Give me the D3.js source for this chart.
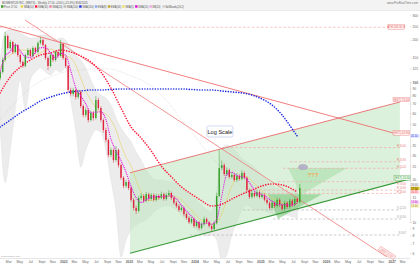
<!DOCTYPE html>
<html><head><meta charset="utf-8">
<script src="https://cdn.jsdelivr.net/npm/d3@7"></script>
<style>
body{margin:0;background:#fff;}
svg{display:block;font-family:"Liberation Sans",Arial,sans-serif;}
</style></head>
<body><svg id="c" width="420" height="265"></svg>
<script>
// ---------------- DATA ----------------
const candleStart = "2021-01-15";      // bi-weekly candles
const candleStepDays = 14;
const open  = [106.8,117.9,143.6,213.1,175.0,193.1,163.8,183.8,155.9,139.0,130.1,155.9,169.3,153.4,175.0,163.8,189.9,199.5,183.8,148.4,130.1,155.9,143.6,163.8,153.4,186.8,148.4,130.1,87.7,82.1,87.7,78.1,84.9,67.4,58.1,63.1,53.5,60.1,55.3,74.4,65.2,53.5,45.4,38.5,30.1,32.7,27.7,32.7,25.5,20.7,18.1,19.3,17.5,14.4,12.6,12.0,14.85,15.35,14.2,15.8,14.6,15.6,14.4,15.35,14.85,15.8,14.6,15.6,16.1,14.85,13.7,13.0,12.2,12.6,11.4,10.7,9.97,10.5,9.36,9.97,9.06,9.64,10.5,9.97,9.36,8.91,9.8,15.35,24.3,25.5,22.0,23.5,21.0,21.7,19.95,21.3,20.3,22.4,20.7,16.9,15.1,16.1,15.35,16.35,15.1,15.6,14.4,13.7,12.6,13.7,13.0,14.4,13.2,12.4,13.7,12.8,14.2,13.2,14.6,13.9];
const close = [117.9,143.6,213.1,175.0,193.1,163.8,183.8,155.9,139.0,130.1,155.9,169.3,153.4,175.0,163.8,189.9,199.5,183.8,148.4,130.1,155.9,143.6,163.8,153.4,186.8,148.4,130.1,87.7,82.1,87.7,78.1,84.9,67.4,58.1,63.1,53.5,60.1,55.3,74.4,65.2,53.5,45.4,38.5,30.1,32.7,27.7,32.7,25.5,20.7,18.1,19.3,17.5,14.4,12.6,12.0,14.85,15.35,14.2,15.8,14.6,15.6,14.4,15.35,14.85,15.8,14.6,15.6,16.1,14.85,13.7,13.0,12.2,12.6,11.4,10.7,9.97,10.5,9.36,9.97,9.06,9.64,10.5,9.97,9.36,8.91,9.8,15.35,24.3,25.5,22.0,23.5,21.0,21.7,19.95,21.3,20.3,22.4,20.7,16.9,15.1,16.1,15.35,16.35,15.1,15.6,14.4,13.7,12.6,13.7,13.0,14.4,13.2,12.4,13.7,12.8,14.2,13.2,14.6,13.9,17.5];
const high  = [122,150,227.5,218,200,197,190,187,160,142,160,175,173,180,179,195,209.6,204,187,152,160,159,168,167,199.5,190,152,133,91,91,90,88,87,69,66,65,62.5,62,79.4,77,67,55,47,39.5,34,33.5,34.9,33.5,26.2,21.3,20,19.9,17.9,14.8,13.1,15.4,16.1,15.8,16.4,16.2,16.1,16.0,15.9,15.8,16.5,16.2,16.2,16.9,16.5,15.2,14.1,13.4,13.1,12.9,11.7,11.0,10.9,10.8,10.3,10.2,9.95,10.9,10.8,10.2,9.6,10.1,16.2,32.7,27.5,26.3,24.6,24.2,22.8,22.3,22.3,22.0,23.4,23.0,21.2,17.4,16.8,16.6,17.0,16.8,16.2,16.0,14.8,14.1,14.2,14.1,14.9,14.8,13.6,14.2,14.1,14.7,14.6,15.1,15.0,18.7];
const low   = [103,115,140,170,170,158,160,151,134,125.9,127,152,149,150,159,160,185,179,144,121.8,127,139,140,149,150,144,126,84,79,79,75,76,65,56,56,51.5,52,53,54,63,51.5,43.5,37,29,29,26.5,27,24.5,20,17.4,17.5,16.9,13.9,12.1,11.4,11.7,14.4,13.7,13.8,14.1,14.2,14.0,14.0,14.4,14.5,14.2,14.2,15.2,14.4,13.3,12.6,11.8,11.9,11.0,10.4,9.7,9.7,9.1,9.1,8.8,8.85,9.4,9.7,9.1,8.63,8.75,9.6,15.0,23.4,21.3,21.4,20.4,20.4,19.4,19.4,19.7,19.8,20.1,16.4,14.6,14.7,14.9,15.0,14.7,14.7,14.0,13.3,12.2,12.3,12.6,12.7,12.8,12.0,12.1,12.4,12.5,12.8,12.9,13.5,13.6];

// indicators every 4 weeks from candleStart
const indStepDays = 28;
const smaFast = [118,153.4,164.9,185.0,166.0,151.8,148.9,163.3,175.5,176.1,161.7,148.0,160.1,155.4,121.0,91.5,79.7,69.7,60.3,60.9,61.3,53.9,39.1,32.2,27.4,22.7,17.9,14.9,13.8,14.4,15.1,15.15,15.2,15.25,15.4,14.6,13.2,11.96,11.0,10.07,9.65,9.84,9.64,10.45,15.3,21.8,22.7,21.5,21.1,20.2,18.0,15.9,15.7,15.0,14.0,13.4,13.3,13.25,13.2,13.8];
const smaMid  = [125,145,155.9,163.8,169.3,169.3,163.8,155.9,161.2,169.3,172.1,166.5,155.9,153.4,148.4,132.3,106.8,86.3,74.4,65.2,61.1,59.1,53.5,45.4,35.5,29.1,25.1,19.95,16.35,14.4,14.2,14.6,15.1,15.35,15.35,15.1,14.4,13.2,12.2,11.0,10.3,9.84,9.64,9.97,11.4,14.4,18.1,20.7,21.3,21.0,19.6,18.1,16.6,15.6,14.85,14.2,13.7,13.2,13.2,13.4];
const bbUpper = [143.6,230,235.1,235.1,223.8,213.1,206.0,206.0,216.6,216.6,209.6,199.5,206.0,199.5,175.0,155.9,143.6,125.9,103.3,87.7,80.7,76.8,68.5,55.3,46.9,41.8,37.3,31.6,27.7,23.5,21.0,19.95,19.95,19.6,19.3,19.0,17.8,16.35,15.6,14.4,13.2,12.2,11.8,16.9,32.7,35.5,33.8,31.6,28.6,26.8,25.5,23.5,21.7,19.95,18.4,17.5,16.9,16.35,16.35,18.4];
const bbLower = [47.7,19.0,32.7,63.1,103.3,63.1,103.3,117.9,125.9,117.9,112.2,121.8,117.9,125.9,74.4,45.4,24.7,32.7,39.8,45.4,43.9,32.7,19.95,12.2,5.62,7.44,8.77,9.52,9.97,10.3,11.2,12.2,12.8,13.0,12.8,12.2,11.2,10.3,9.52,8.77,8.21,7.94,8.07,7.44,5.35,5.81,8.07,9.97,12.2,13.2,12.6,12.2,12.2,11.8,11.4,11.2,11.2,11.2,10.9,10.7];

// slow averages every 8 weeks (last point 4 weeks later)
const sma50  = [83.5,108.6,128.0,143.6,155.9,161.2,169.3,163.8,153.4,139.0,117.9,90.6,65.2,47.7,39.8,32.2,25.1,21.0,17.8,15.8,14.2,13.0,13.4,14.6,15.8,16.9,18.1,18.7,18.4,17.2,16.35];
const sma200 = [47.7,53.5,60.1,66.2,73.2,78.1,82.1,84.9,86.3,87.7,87.7,88.4,89.2,89.2,89.2,89.2,89.2,89.2,89.2,88.4,87.7,87.7,86.3,84.9,83.5,80.7,75.6,68.5,58.1,46.2,41.1];
const sma100 = [53.5,65.2,78.1,90.6,101.6,108.6,116.0,119.8,121.8,123.8,123.8,123.8,117.9,110.4,103.3,93.6,80.7,67.4,53.5,43.9,35.5,29.1,24.3,20.7,18.1,16.35];

// trend lines: [startDate, endDate], [startPrice, endPrice]
const lineSteepDates = ["2021-06-02","2026-12-06"], lineSteepPrices = [277.2, 5.62];
const lineFallDates  = ["2021-01-14","2027-01-20"], lineFallPrices  = [251.2, 42.9];
const chanTopDates   = ["2023-01-07","2027-02-16"], chanTopPrices   = [22.48, 72.0];
const chanBotDates   = ["2023-01-07","2027-04-13"], chanBotPrices   = [5.98, 20.3];
const chanFillDates  = ["2023-01-07","2027-02-16","2027-02-16","2023-01-07"];
const chanFillPrices = [22.48, 72.0, 19.37, 5.98];
const athPrice = 245.9, athEnd = "2026-12-20";

// horizontal support / resistance levels
const levelPrices = [34.0, 26.9, 24.2, 19.4, 16.9, 16.0, 12.2, 10.5, 8.07];
const levelStarts = ["2024-06-01","2025-06-15","2025-05-06","2025-04-09","2024-11-04","2024-11-04","2024-09-26","2025-03-12","2023-12-06"];
const levelKinds  = ["R","R","R","R","R","R","S","S","S"];
const levelEnd = "2027-02-22";

// pattern triangles
const triTargetDates = ["2025-06-04","2026-04-28","2025-08-15"], triTargetPrices = [24.3, 24.3, 15.6];
const triPatternDates = ["2025-02-12","2025-12-10","2025-04-09"], triPatternPrices = [15.8, 15.8, 10.5];
const targetDate = "2025-08-26", targetPrice = 24.7;
const qDate = "2025-10-20", qPrice = 21.0;
const logLabelDate = "2024-05-21", logLabelPrice = 44.3;

const yTicks = [300,250,200,150,125,100,90,80,70,60,50,40,35,30,25,20,15,12.5,10,9,8,7,6];

// ---------------- CHART ----------------
const parse = d3.timeParse("%Y-%m-%d");
const W = 420, H = 265, plotR = 410, plotT = 11, plotB = 258;
const svg = d3.select("#c");
const x = d3.scaleTime().domain([parse("2021-01-14"), parse("2027-04-13")]).range([0, plotR]);
const y = d3.scaleLog().domain([100, 10]).range([82, 222]);

const cStart = parse(candleStart);
const candles = close.map((c, i) => ({d: d3.timeDay.offset(cStart, i*candleStepDays), o: open[i], h: high[i], l: low[i], c}));
const indDates = smaFast.map((_, j) => d3.timeDay.offset(cStart, j*indStepDays));
const slowDates = sma50.map((_, k) => k < 30 ? d3.timeDay.offset(cStart, k*56) : d3.timeDay.offset(cStart, 59*28));

// header
svg.append("rect").attr("x",0).attr("y",0).attr("width",W).attr("height",10).attr("fill","#f3f3f3");
svg.append("line").attr("x1",0).attr("x2",W).attr("y1",10.5).attr("y2",10.5).attr("stroke","#d8d8d8").attr("stroke-width",0.5);
svg.append("text").attr("x",2).attr("y",3.5).attr("font-size",2.8).attr("fill","#555")
  .text("MOMENTUS INC. (MNTS) - Weekly 17.50 +3.60 (+25.9%) 8/08/2025");
svg.append("text").attr("x",418).attr("y",3.6).attr("font-size",3).attr("fill","#777").attr("text-anchor","end").text("www.ProRealTime.com");
const legend = [
  ["Price 17.50","#3a9d23"],["SMA(10)","#e8d44a"],["SMA(50)","#ff1a3c"],["SMA(20)","#f080a0"],
  ["SMA(100)","#bbbbbb"],["SMA(200)","#1f2ee0"],["EMA(8)","#7fa8ff"],["EMA(34)","#c0a020"],
  ["SMA(5)","#f0e060"],["SMA(10)","#e000e0"],["BB(20)","#f0a0e0"],["BollBands(20,2)","#cccccc"]];
let lx = 1;
legend.forEach(([t,c]) => {
  svg.append("rect").attr("x",lx).attr("y",5.3).attr("width",2.4).attr("height",2.4).attr("fill",c);
  svg.append("text").attr("x",lx+3).attr("y",7.6).attr("font-size",2.6).attr("fill","#555").text(t);
  lx += 3.2 + t.length*1.33 + 1.8;
});

const defs = svg.append("defs");
defs.append("clipPath").attr("id","clip").append("rect").attr("x",0).attr("y",plotT).attr("width",plotR).attr("height",plotB-plotT);
const g = svg.append("g").attr("clip-path","url(#clip)");

// Bollinger band shading
g.append("path").datum(indDates.map((d,j)=>({d, u: bbUpper[j], l: bbLower[j]})))
  .attr("d", d3.area().x(p=>x(p.d)).y0(p=>y(p.l)).y1(p=>y(p.u)).curve(d3.curveMonotoneX))
  .attr("fill","#ececec").attr("stroke","#dcdcdc").attr("stroke-width",0.4);

// channel fill
g.append("path").datum(chanFillDates.map((d,i)=>[x(parse(d)), y(chanFillPrices[i])]))
  .attr("d", d=>"M"+d.join("L")+"Z").attr("fill","#bfe6bf").attr("fill-opacity",0.55);

// pattern triangles
g.append("path").datum(triTargetDates.map((d,i)=>[x(parse(d)), y(triTargetPrices[i])]))
  .attr("d", d=>"M"+d.join("L")+"Z").attr("fill","#a6dca6").attr("fill-opacity",0.55);
g.append("path").datum(triPatternDates.map((d,i)=>[x(parse(d)), y(triPatternPrices[i])]))
  .attr("d", d=>"M"+d.join("L")+"Z").attr("fill","#7fc97f").attr("fill-opacity",0.6);

// horizontal levels
levelPrices.forEach((p,i) => {
  const col = levelKinds[i] === "R" ? "#f4a8a8" : "#b4b4b4";
  g.append("line").attr("x1", x(parse(levelStarts[i]))).attr("x2", x(parse(levelEnd)))
    .attr("y1", y(p)).attr("y2", y(p)).attr("stroke", col).attr("stroke-width",0.7).attr("stroke-dasharray","2.5,2");
});
// ATH dashed
g.append("line").attr("x1",0).attr("x2",x(parse(athEnd))).attr("y1",y(athPrice)).attr("y2",y(athPrice))
  .attr("stroke","#f6b0b0").attr("stroke-width",0.7).attr("stroke-dasharray","2.5,2");

// trend lines
function seg(dates, prices, col, w) {
  g.append("line").attr("x1", x(parse(dates[0]))).attr("y1", y(prices[0]))
    .attr("x2", x(parse(dates[1]))).attr("y2", y(prices[1])).attr("stroke", col).attr("stroke-width", w);
}
seg(lineFallDates, lineFallPrices, "#ef6f6f", 0.9);
seg(lineSteepDates, lineSteepPrices, "#f07a7a", 0.8);
seg(chanTopDates, chanTopPrices, "#e86a6a", 0.9);
seg(chanBotDates, chanBotPrices, "#3a9a3a", 1.2);

// moving averages
const ln = d3.line().x(p=>x(p[0])).y(p=>y(p[1])).curve(d3.curveMonotoneX);
g.append("path").datum(sma100.map((v,k)=>[slowDates[k], v])).attr("d", ln)
  .attr("fill","none").attr("stroke","#bdbdbd").attr("stroke-width",0.6).attr("stroke-dasharray","0.6,1.2");
g.append("path").datum(smaMid.map((v,j)=>[indDates[j], v])).attr("d", ln)
  .attr("fill","none").attr("stroke","#e6d260").attr("stroke-width",0.6);
g.append("path").datum(sma200.map((v,k)=>[slowDates[k], v])).attr("d", ln)
  .attr("fill","none").attr("stroke","#1f2ee0").attr("stroke-width",1.6).attr("stroke-linecap","round").attr("stroke-dasharray","0.01,2.6");
g.append("path").datum(sma50.map((v,k)=>[slowDates[k], v])).attr("d", ln)
  .attr("fill","none").attr("stroke","#ff1a3c").attr("stroke-width",1.6).attr("stroke-linecap","round").attr("stroke-dasharray","0.01,2.6");

// candles
const cw = 1.4;
const cg = g.append("g");
candles.forEach(k => {
  const col = k.c >= k.o ? "#35a02a" : "#e0203c";
  const cx = x(k.d);
  cg.append("line").attr("x1",cx).attr("x2",cx).attr("y1",y(k.h)).attr("y2",y(k.l)).attr("stroke",col).attr("stroke-width",0.5);
  const yt = y(Math.max(k.o,k.c)), yb = y(Math.min(k.o,k.c));
  cg.append("rect").attr("x",cx-cw/2).attr("y",yt).attr("width",cw).attr("height",Math.max(0.6,yb-yt)).attr("fill",col);
});
// fast MA (magenta dots) over candles
g.append("path").datum(smaFast.map((v,j)=>[indDates[j], v])).attr("d", ln)
  .attr("fill","none").attr("stroke","#e010e0").attr("stroke-width",1.2).attr("stroke-linecap","round").attr("stroke-dasharray","0.01,1.9");

// target ellipse and ???
g.append("ellipse").attr("cx", x(parse(targetDate))).attr("cy", y(targetPrice)).attr("rx",4.5).attr("ry",2.6)
  .attr("fill","#b7b0c9").attr("stroke","#9a94ad").attr("stroke-width",0.4);
g.append("text").attr("x", x(parse(qDate))).attr("y", y(qPrice)).attr("font-size",6).attr("font-weight","bold")
  .attr("fill","#f2a65a").attr("text-anchor","middle").text("???");

// Log Scale label
const lg = svg.append("g").attr("transform",`translate(${x(parse(logLabelDate))},${y(logLabelPrice)})`);
lg.append("rect").attr("x",-13).attr("y",-5.5).attr("width",26).attr("height",11).attr("rx",1.5)
  .attr("fill","#fff").attr("stroke","#b9c9ec").attr("stroke-width",0.7);
lg.append("text").attr("x",0).attr("y",2).attr("font-size",5.6).attr("text-anchor","middle").attr("fill","#222").text("Log Scale");

// line-end labels
const tagBoxes = [];
function tag(xp, yp, txt, col, bg) {
  const t = svg.append("g").attr("transform",`translate(${xp},${yp})`);
  t.append("rect").attr("x",0).attr("y",-2.2).attr("width",16.5).attr("height",4.4).attr("fill",bg).attr("stroke",col).attr("stroke-width",0.35);
  t.append("text").attr("x",8.25).attr("y",1.1).attr("font-size",2.9).attr("fill",col).attr("text-anchor","middle").text(txt);
  tagBoxes.push([yp-2.2, yp+2.2]);
}
tag(388, y(athPrice)-0.3, "ATH 245.90 R", "#e86a6a", "#fff0f0");
tag(393, y(lineFallPrices[1])-0.5, "(EST) 42.90", "#e86a6a", "#fff0f0");
tag(393, y(chanTopPrices[1])-2.5, "(EST) 72.00", "#e86a6a", "#fff0f0");
tag(394, y(chanBotPrices[1])-1, "(EST) 20.30", "#3a9a3a", "#effaef");
levelPrices.forEach((p,i) => {
  const col = levelKinds[i] === "R" ? "#e87a7a" : "#999";
  let ty = y(p) - 0.6;
  if (tagBoxes.some(([a,b]) => ty > a - 0.3 && ty - 2.3 < b + 0.3)) ty = y(p) + 3;
  svg.append("text").attr("x",406).attr("y",ty).attr("font-size",2.6).attr("fill",col).attr("text-anchor","end")
    .text(levelKinds[i] + " " + d3.format(".2f")(p));
});
// rotated tag on steep line
{
  const ex = x(parse(lineSteepDates[1])), ey = y(lineSteepPrices[1]);
  const t = svg.append("g").attr("transform",`translate(${ex},${ey-4}) rotate(33)`);
  t.append("rect").attr("x",-9).attr("y",-2.3).attr("width",18).attr("height",4.6).attr("fill","#fff0f0").attr("stroke","#e86a6a").attr("stroke-width",0.35);
  t.append("text").attr("x",0).attr("y",1.1).attr("font-size",3).attr("fill","#e86a6a").attr("text-anchor","middle").text("(EST) 5.62");
}

// right axis value boxes (placed first so ticks can avoid them)
const boxes = [[sma200[sma200.length-1],"#1f2ee0","#dfe3ff"],[close[close.length-1],"#222","#e0c020"],
  [sma50[sma50.length-1],"#ff1a3c","#ffe0e4"],[bbUpper[bbUpper.length-1],"#888","#eeeeee"],
  [smaFast[smaFast.length-1],"#c000c0","#f8d8f8"],[smaMid[smaMid.length-1],"#a09020","#faf4c8"]];
let lastY = -10; const boxYs = [];
boxes.sort((a,b)=>y(a[0])-y(b[0])).forEach(([v,tc,bg]) => {
  let yy = Math.max(y(v), lastY+3.6); lastY = yy; boxYs.push(yy);
  svg.append("rect").attr("x",410.5).attr("y",yy-1.7).attr("width",9).attr("height",3.4).attr("fill",bg);
  svg.append("text").attr("x",411).attr("y",yy+1).attr("font-size",2.7).attr("fill",tc).text(d3.format(".2f")(v));
});
const shownTicks = yTicks.filter(t => boxYs.every(b => Math.abs(y(t) - b) > 3.6));

// right axis
const ra = svg.append("g").attr("transform",`translate(${plotR},0)`)
  .call(d3.axisRight(y).tickValues(shownTicks).tickSize(1.5).tickFormat(d => d3.format("~g")(d)));
ra.select(".domain").attr("stroke","#ccc").attr("stroke-width",0.5);
ra.selectAll(".tick line").attr("stroke","#bbb").attr("stroke-width",0.4);
ra.selectAll(".tick text").attr("font-size",3.3).attr("fill","#666").attr("x",2.5)
  .attr("font-weight", d => d === 100 ? "bold" : "normal").attr("font-family","Liberation Sans,Arial");

// bottom axis
svg.append("line").attr("x1",0).attr("x2",plotR).attr("y1",plotB+0.5).attr("y2",plotB+0.5).attr("stroke","#ccc").attr("stroke-width",0.5);
const mNames = {0:null,2:"Mar",4:"May",6:"Jul",8:"Sept",10:"Nov"};
const ticks = x.ticks(d3.timeMonth.every(2));
const ba = svg.append("g").attr("transform",`translate(0,${plotB})`)
  .call(d3.axisBottom(x).tickValues(ticks).tickSize(0).tickPadding(3)
    .tickFormat(d => d.getMonth() === 0 ? d.getFullYear() : mNames[d.getMonth()]));
ba.select(".domain").remove();
ba.selectAll(".tick text").attr("font-size",3.4).attr("fill","#666").attr("font-family","Liberation Sans,Arial")
  .attr("font-weight", d => d.getMonth() === 0 ? "bold" : "normal");
svg.append("text").attr("x",1).attr("y",257).attr("font-size",2.4).attr("fill","#999").text("ProRealTime.com");
</script></body></html>
